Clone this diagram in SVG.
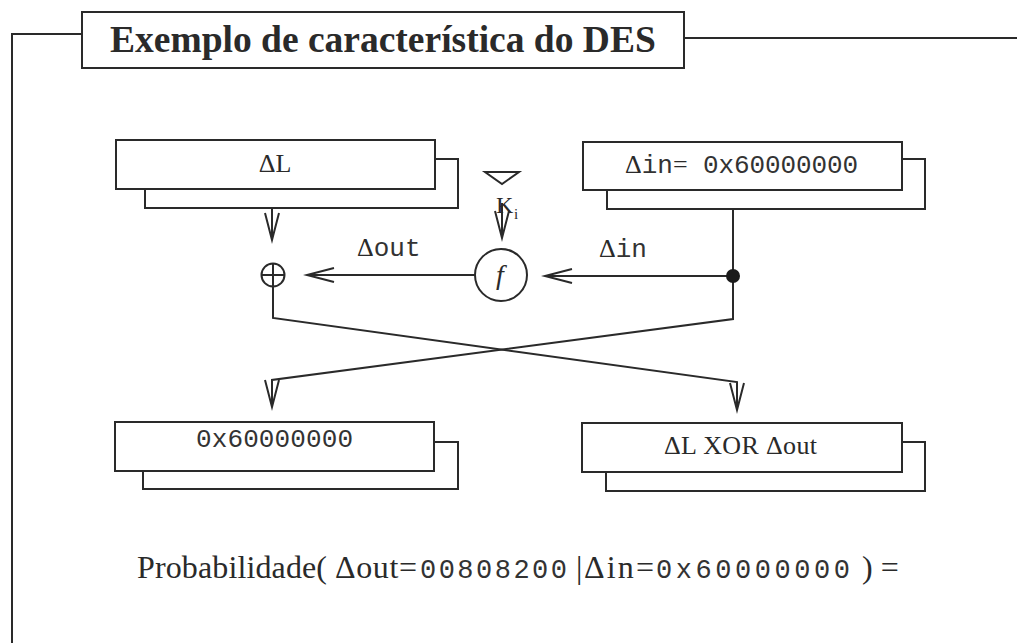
<svg xmlns="http://www.w3.org/2000/svg" width="1017" height="643" viewBox="0 0 1017 643">
<defs>
<marker id="arr" markerUnits="userSpaceOnUse" markerWidth="30" markerHeight="20" refX="0" refY="0" orient="auto" overflow="visible">
<path d="M-27,-7 L0,0 L-27,7" fill="none" stroke="#2a2a2a" stroke-width="2"/>
</marker>
</defs>
<style>
.ln{fill:none;stroke:#2a2a2a;stroke-width:2}
.bx{fill:#fff;stroke:#2a2a2a;stroke-width:2}
.sf{font-family:"Liberation Serif","Times New Roman",serif;fill:#2a2a2a}
.mo{font-family:"Liberation Mono","Courier New",monospace;fill:#333}
</style>
<rect width="1017" height="643" fill="#fff"/>
<g id="frame">
<path class="ln" d="M12,643 V34 H82"/>
<path class="ln" d="M684,38 H1017"/>
</g>
<g id="title">
<rect class="bx" x="82" y="12" width="602" height="56"/>
<text class="sf" x="110" y="52" font-size="37.5" font-weight="bold" fill="#333">Exemplo de característica do DES</text>
</g>
<g id="connectors">
<path class="ln" d="M272,208 V240" marker-end="url(#arr)"/>
<path class="ln" d="M502,203 V238" marker-end="url(#arr)"/>
<path class="ln" d="M733,276 H545" marker-end="url(#arr)"/>
<path class="ln" d="M475,275 H307" marker-end="url(#arr)"/>
<path class="ln" d="M733,209 V319 L272,380 V407" marker-end="url(#arr)"/>
<path class="ln" d="M273,287 V318 L737,382 V410" marker-end="url(#arr)"/>
<circle cx="733" cy="276" r="7" fill="#1a1a1a"/>
</g>
<g id="node-dL">
<rect class="bx" x="145" y="159" width="313" height="49"/>
<rect class="bx" x="116" y="140" width="319" height="49"/>
<text class="sf" x="275" y="172" font-size="26" text-anchor="middle">ΔL</text>
</g>
<g id="node-din">
<rect class="bx" x="607" y="159" width="318" height="50"/>
<rect class="bx" x="583" y="142" width="319" height="48"/>
<text x="625" y="173" font-size="26"><tspan class="sf">Δ</tspan><tspan class="mo">in</tspan><tspan class="sf">= </tspan><tspan class="mo" x="703" textLength="155">0x60000000</tspan></text>
</g>
<g id="node-key">
<path class="ln" d="M485,172 H519 L502,184 Z"/>
<text class="sf" x="496" y="213" font-size="24">K</text>
<text class="sf" x="514" y="219" font-size="15">i</text>
</g>
<g id="node-f">
<circle class="bx" cx="501" cy="275" r="26"/>
<text class="sf" x="500" y="284" font-size="28" font-style="italic" text-anchor="middle">f</text>
</g>
<g id="node-xor">
<circle class="ln" cx="273" cy="275" r="11.5"/>
<path class="ln" d="M261.5,275 H284.5 M273,263.5 V286.5"/>
</g>
<g id="labels">
<text x="357" y="256" font-size="26"><tspan class="sf">Δ</tspan><tspan class="mo">out</tspan></text>
<text x="599" y="257" font-size="26"><tspan class="sf">Δ</tspan><tspan class="mo">in</tspan></text>
</g>
<g id="node-out-left">
<rect class="bx" x="143" y="442" width="315" height="47"/>
<rect class="bx" x="115" y="422" width="319" height="49"/>
<text class="mo" x="196" y="447" font-size="26" textLength="157">0x60000000</text>
</g>
<g id="node-out-right">
<rect class="bx" x="606" y="442" width="319" height="49"/>
<rect class="bx" x="582" y="423" width="320" height="49"/>
<text class="sf" x="664" y="454" font-size="26" textLength="153">ΔL XOR Δout</text>
</g>
<g id="probability">
<text y="578" font-size="32"><tspan class="sf" x="137" textLength="190">Probabilidade(</tspan><tspan class="sf" x="335" textLength="82">Δout=</tspan><tspan class="mo" x="420" font-size="27" textLength="147">00808200</tspan><tspan class="sf" x="576">|</tspan><tspan class="sf" x="584" textLength="70">Δin=</tspan><tspan class="mo" x="656" font-size="27" textLength="194">0x60000000</tspan><tspan class="sf" x="862">) =</tspan></text>
</g>
</svg>
